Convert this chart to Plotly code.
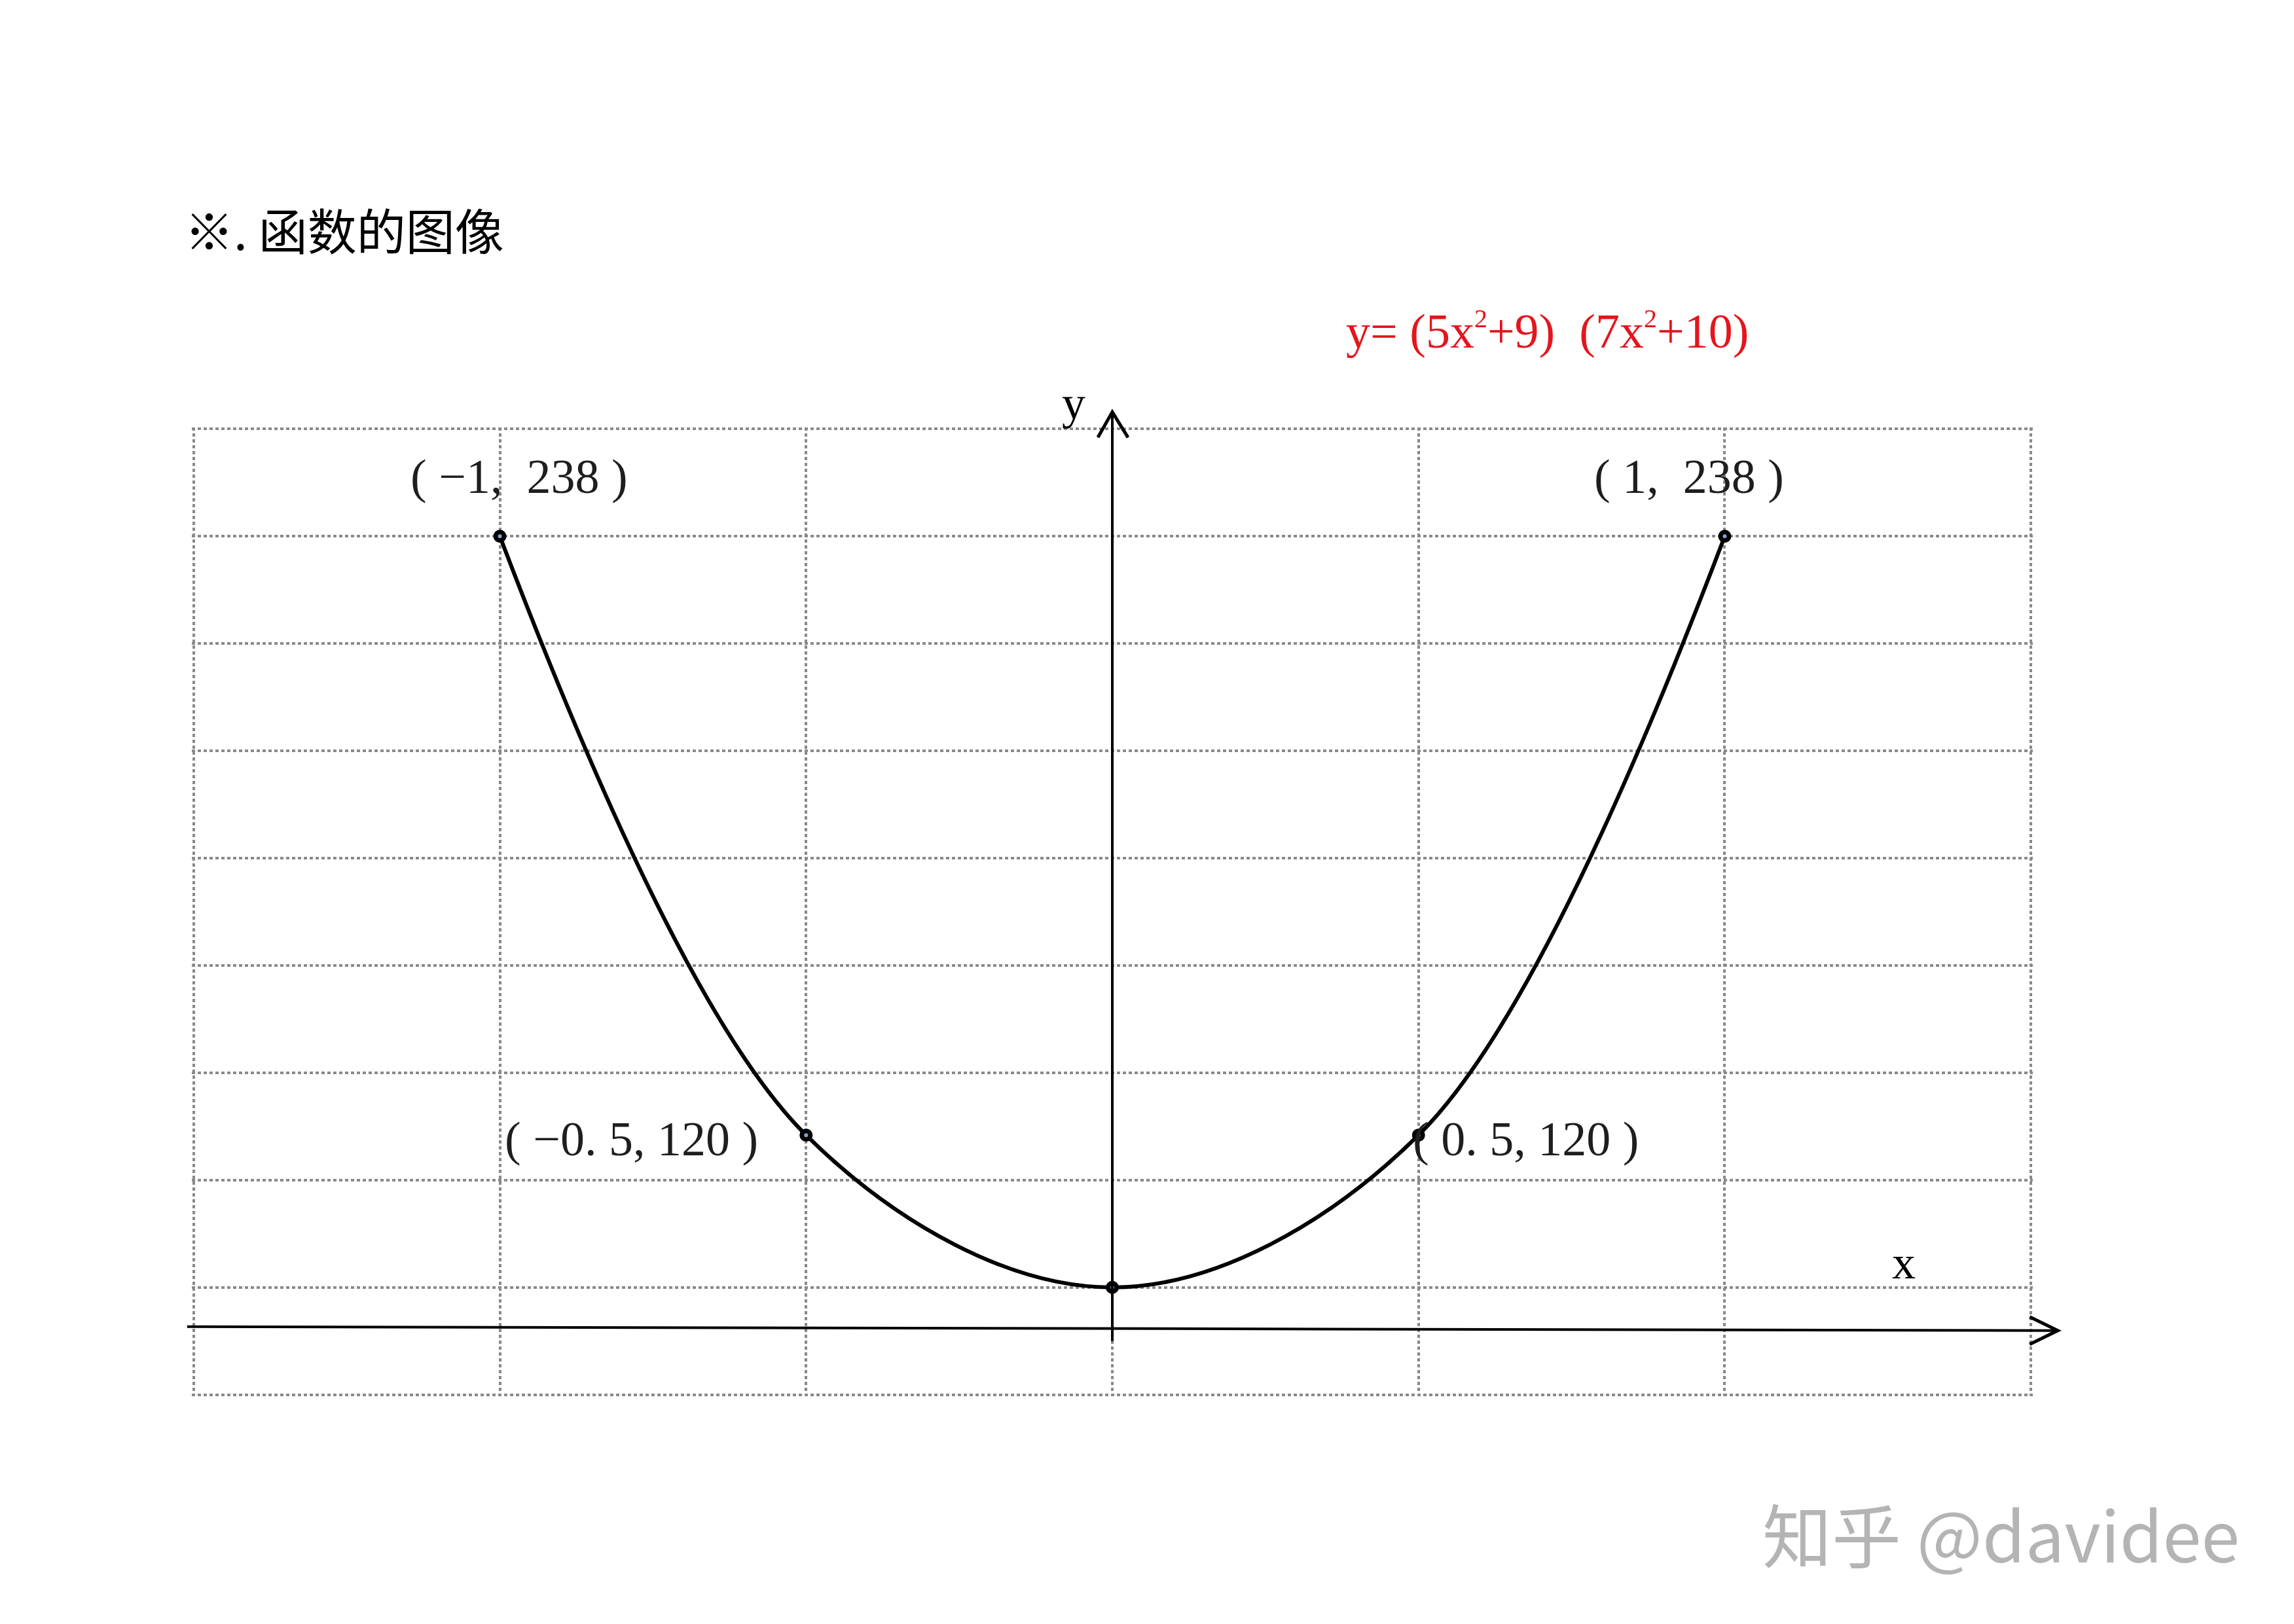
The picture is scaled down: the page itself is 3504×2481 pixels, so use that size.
import plotly.graph_objects as go

# ---------------- data ----------------
x_vals = [-1, -0.5, 0, 0.5, 1]
y_vals = [238, 120, 90, 120, 238]
point_labels = ["( −1,  238 )", "( −0. 5, 120 )", "", "( 0. 5, 120 )", "( 1,  238 )"]
x_grid = [-1.5, -1.0, -0.5, 0.0, 0.5, 1.0, 1.5]
title_text = "※. 函数的图像"
formula_text = ("y= (5x<sup><span style='font-size:40px'>2</span></sup>+9)  "
                "(7x<sup><span style='font-size:40px'>2</span></sup>+10)")
watermark_text = "知乎 @davidee"
x_axis_label = "x"
y_axis_label = "y"

# ---------------- layout geometry (pixels) ----------------
W, H = 3504, 2481
PL, PR = 296, 3102          # plot area left/right
PT, PB = 655, 2131          # plot area top/bottom
n_rows = 9

# y grid: 90 sits one row above the bottom, 238 eight rows above bottom
y_min_v, y_max_v = min(y_vals), max(y_vals)
step = (y_max_v - y_min_v) / 7.0
y_grid = [y_min_v - step + k * step for k in range(n_rows + 1)]

ex = 0.003   # small padding so edge grid lines are drawn
ey = 0.3
px_per_x = (PR - PL) / (x_grid[-1] - x_grid[0])
px_per_y = (PB - PT) / (y_grid[-1] - y_grid[0])
ml = PL - ex * px_per_x
mr = W - PR - ex * px_per_x
mt = PT - ey * px_per_y
mb = H - PB - ey * px_per_y
area_w = W - ml - mr
area_h = H - mt - mb


def fx(px):
    return (px - ml) / area_w


def fy(py):
    return (H - mb - py) / area_h


fig = go.Figure()

fig.add_trace(go.Scatter(
    x=x_vals, y=y_vals, mode="lines+markers",
    line=dict(color="black", width=6, shape="spline", smoothing=1.0),
    marker=dict(size=13, color="#7fa6d6", line=dict(color="black", width=7)),
    hoverinfo="skip", showlegend=False,
))

grid_style = dict(showgrid=True, gridcolor="#8a8a8a", gridwidth=4, griddash="5px,4px",
                  zeroline=False, showline=False, ticks="", showticklabels=False)

fig.update_xaxes(range=[x_grid[0] - ex, x_grid[-1] + ex], tickvals=x_grid, **grid_style)
fig.update_yaxes(range=[y_grid[0] - ey, y_grid[-1] + ey], tickvals=y_grid, **grid_style)

shapes = []
# y axis with open arrow head
shapes.append(dict(type="line", xref="paper", yref="paper",
                   x0=fx(1699), x1=fx(1699), y0=fy(2049), y1=fy(631),
                   line=dict(color="black", width=4)))
shapes.append(dict(type="path", xref="paper", yref="paper",
                   path=f"M {fx(1677)} {fy(668)} L {fx(1699)} {fy(629)} L {fx(1723)} {fy(668)}",
                   line=dict(color="black", width=5)))
# x axis with open arrow head
shapes.append(dict(type="line", xref="paper", yref="paper",
                   x0=fx(286), x1=fx(3141), y0=fy(2027), y1=fy(2033),
                   line=dict(color="black", width=4)))
shapes.append(dict(type="path", xref="paper", yref="paper",
                   path=f"M {fx(3100)} {fy(2012)} L {fx(3143)} {fy(2033)} L {fx(3100)} {fy(2054)}",
                   line=dict(color="black", width=5)))

serif = "Liberation Serif, Times New Roman, serif"
cjk = "Noto Sans CJK SC, Noto Sans, sans-serif"

annotations = []
annotations.append(dict(text=title_text, xref="paper", yref="paper", x=fx(280), y=fy(349),
                        xanchor="left", yanchor="middle", showarrow=False,
                        font=dict(family=cjk, size=75, color="black")))
annotations.append(dict(text=formula_text, xref="paper", yref="paper", x=fx(2363), y=fy(505),
                        xanchor="center", yanchor="middle", showarrow=False,
                        font=dict(family=serif, size=74, color="#e3161d")))
annotations.append(dict(text=y_axis_label, xref="paper", yref="paper", x=fx(1640), y=fy(616),
                        xanchor="center", yanchor="middle", showarrow=False,
                        font=dict(family=serif, size=72, color="black")))
annotations.append(dict(text=x_axis_label, xref="paper", yref="paper", x=fx(2908), y=fy(1929),
                        xanchor="center", yanchor="middle", showarrow=False,
                        font=dict(family=serif, size=72, color="black")))
annotations.append(dict(text=watermark_text, xref="paper", yref="paper", x=fx(3056), y=fy(2341),
                        xanchor="center", yanchor="middle", showarrow=False,
                        font=dict(family=cjk, size=106, color="#b4b4b4")))

# point labels, offset from their points (pixels)
offsets = [(29, 91), (-267, -6), None, (164, -6), (-54, 91)]
for xv, yv, lab, off in zip(x_vals, y_vals, point_labels, offsets):
    if not lab or off is None:
        continue
    annotations.append(dict(text=lab, x=xv, y=yv, xref="x", yref="y",
                            xshift=off[0], yshift=off[1], showarrow=False,
                            xanchor="center", yanchor="middle",
                            font=dict(family=serif, size=74, color="#1e1e1e")))

fig.update_layout(
    width=W, height=H,
    margin=dict(l=ml, r=mr, t=mt, b=mb, pad=0),
    paper_bgcolor="white", plot_bgcolor="rgba(0,0,0,0)",
    shapes=shapes, annotations=annotations, showlegend=False,
)

fig.write_html("out.html", config={"displayModeBar": False},
               post_script="document.body.style.margin='0';document.body.style.overflow='hidden';")
